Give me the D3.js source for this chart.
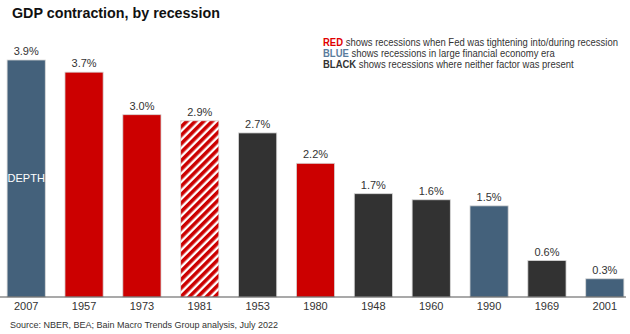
<!DOCTYPE html>
<html>
<head>
<meta charset="utf-8">
<script src="https://cdn.jsdelivr.net/npm/d3@7"></script>
<style>
  body { margin: 0; background: #fff; }
  svg text { font-family: "Liberation Sans", Arial, sans-serif; }
</style>
</head>
<body>
<div id="chart"></div>
<script>
var width = 630;
var height = 334;
var margin = { top: 60, bottom: 37, left: 0, right: 0 };

// recession years, ordered by depth
var years = ['2007', '1957', '1973', '1981', '1953', '1980', '1948', '1960', '1990', '1969', '2001'];
var depth = [3.9, 3.7, 3.0, 2.9, 2.7, 2.2, 1.7, 1.6, 1.5, 0.6, 0.3];
// fed = Fed tightening, fin = large financial economy era, none = neither
var kind = ['fin', 'fed', 'fed', 'hatch', 'none', 'fed', 'none', 'none', 'fin', 'none', 'fin'];

var colors = { fin: '#44617b', fed: '#cc0000', none: '#323232', hatch: 'url(#hatch)' };

var data = years.map(function(y, i) {
  return { year: y, value: depth[i], kind: kind[i] };
});

var svg = d3.select('#chart')
  .append('svg')
  .attr('width', width)
  .attr('height', height);

var defs = svg.append('defs');
var pat = defs.append('pattern')
  .attr('id', 'hatch')
  .attr('patternUnits', 'userSpaceOnUse')
  .attr('width', 6)
  .attr('height', 6)
  .attr('patternTransform', 'rotate(45)');
pat.append('rect').attr('width', 6).attr('height', 6).attr('fill', '#fff');
pat.append('rect').attr('width', 3.6).attr('height', 6).attr('fill', '#cc0000');

var xScale = d3.scaleBand()
  .domain(years)
  .range([-1, 632])
  .paddingInner(0.34)
  .paddingOuter(0.14);

var yScale = d3.scaleLinear()
  .domain([0, 3.9])
  .range([height - margin.bottom, margin.top]);

// title
svg.append('text')
  .attr('x', 12)
  .attr('y', 18)
  .attr('font-size', '14.3px')
  .attr('font-weight', 'bold')
  .attr('fill', '#111')
  .text('GDP contraction, by recession');

// legend lines (squeezed horizontally to fit the top right corner)
var legend = [
  { key: 'RED', color: '#e00000', rest: ' shows recessions when Fed was tightening into/during recession' },
  { key: 'BLUE', color: '#5a7c9c', rest: ' shows recessions in large financial economy era' },
  { key: 'BLACK', color: '#333', rest: ' shows recessions where neither factor was present' }
];
var lg = svg.append('g').attr('font-size', '10.5px');
legend.forEach(function(d, i) {
  var t = lg.append('text')
    .attr('x', 0)
    .attr('y', 46 + i * 11)
    .attr('fill', '#333');
  t.append('tspan').attr('font-weight', 'bold').attr('fill', d.color).text(d.key);
  t.append('tspan').text(d.rest);
});
var lgWidth = lg.select('text').node().getComputedTextLength();
lg.attr('transform', 'translate(323,0) scale(' + (295 / lgWidth) + ',1)');

// bars
var bars = svg.append('g').attr('class', 'bars');
bars.selectAll('rect')
  .data(data)
  .enter()
  .append('rect')
  .attr('x', function(d) { return xScale(d.year); })
  .attr('y', function(d) { return yScale(d.value); })
  .attr('width', xScale.bandwidth())
  .attr('height', function(d) { return yScale(0) - yScale(d.value); })
  .attr('fill', function(d) { return colors[d.kind]; })
  .attr('stroke', '#d8d8d8')
  .attr('stroke-width', 0.8);

// value labels
svg.append('g')
  .selectAll('text')
  .data(data)
  .enter()
  .append('text')
  .attr('x', function(d) { return xScale(d.year) + xScale.bandwidth() / 2; })
  .attr('y', function(d) { return yScale(d.value) - 5; })
  .attr('text-anchor', 'middle')
  .attr('font-size', '11px')
  .attr('fill', '#333')
  .text(function(d) { return d.value.toFixed(1) + '%'; });

svg.append('text')
  .attr('x', xScale('2007') + xScale.bandwidth() / 2)
  .attr('y', 182)
  .attr('text-anchor', 'middle')
  .attr('font-size', '11px')
  .attr('fill', '#fff')
  .text('DEPTH');

// x axis
var axisx = d3.axisBottom(xScale).tickSize(0).tickPadding(5);
var gx = svg.append('g')
  .attr('transform', 'translate(0,' + yScale(0) + ')')
  .call(axisx);
gx.select('.domain').attr('stroke', '#555').attr('stroke-width', 1.2).attr('d', 'M0,0H626');
gx.selectAll('text')
  .attr('font-size', '11px')
  .attr('fill', '#333')
  .attr('font-family', null);

// source
svg.append('text')
  .attr('x', 10)
  .attr('y', 328)
  .attr('font-size', '9px')
  .attr('fill', '#333')
  .text('Source: NBER, BEA; Bain Macro Trends Group analysis, July 2022');
</script>
</body>
</html>
